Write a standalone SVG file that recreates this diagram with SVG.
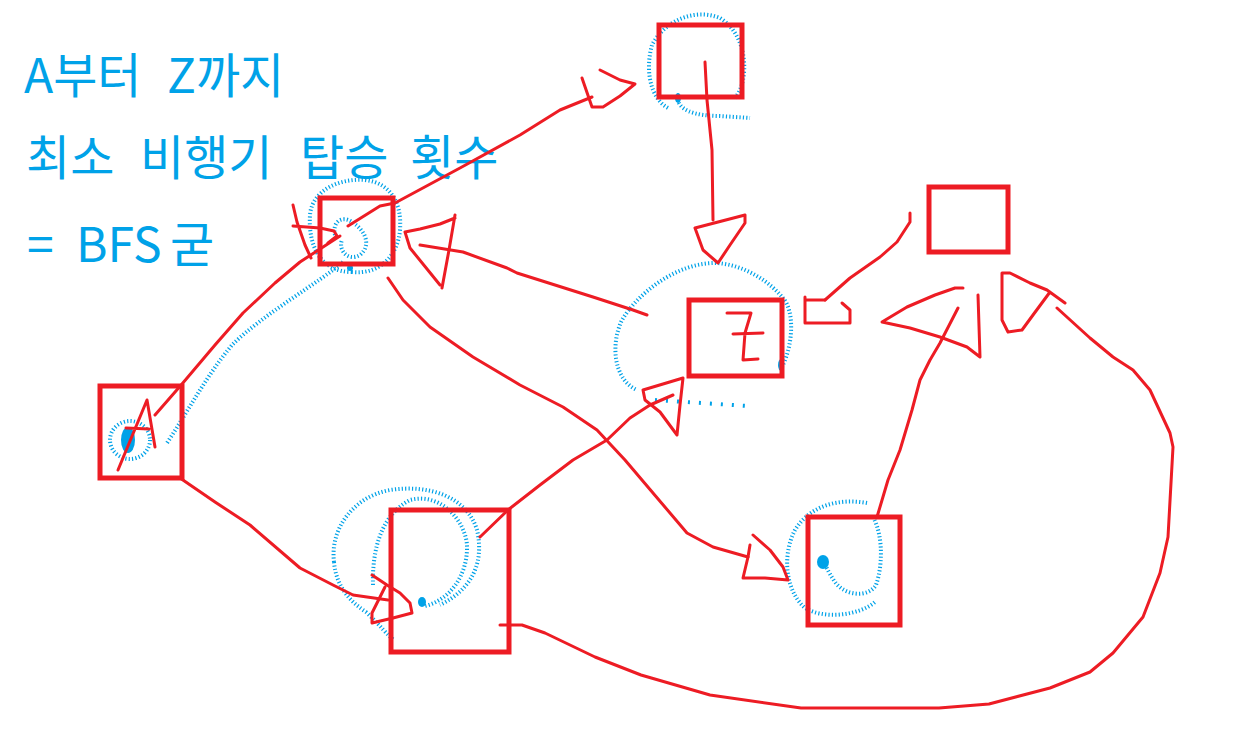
<svg xmlns="http://www.w3.org/2000/svg" width="1243" height="751" viewBox="0 0 1243 751">
<style>
.box{fill:none;stroke:#ED1C24;stroke-width:5}
.ink{fill:none;stroke:#ED1C24;stroke-width:3;stroke-linecap:round;stroke-linejoin:round}
.spray{fill:none;stroke:#00A2E8;stroke-width:4;stroke-dasharray:1.2 2.2}
.sprayw{fill:none;stroke:#00A2E8;stroke-width:4;stroke-dasharray:2 9}
.blob{fill:#00A2E8}
.title{font-family:"Noto Sans CJK KR","Noto Sans",sans-serif;font-size:48px;fill:#00A2E8}
</style>
<rect width="1243" height="751" fill="#ffffff"/>
<g id="title" class="title">
<text y="93"><tspan x="24">A부터</tspan><tspan x="167">Z까지</tspan></text>
<text y="175"><tspan x="26">최소</tspan><tspan x="140">비행기</tspan><tspan x="300">탑승</tspan><tspan x="410">횟수</tspan></text>
<text y="262"><tspan x="27">=</tspan><tspan x="76">BFS</tspan><tspan x="170">굳</tspan></text>
</g>
<g id="highlights">
<path class="spray" d="M678,96 C676,110 695,116 720,116 L750,118 M735,98 C750,80 748,35 720,18 C695,8 665,20 652,45 C645,70 650,98 668,108"/>
<ellipse class="blob" cx="678" cy="98" rx="3" ry="5"/>
<path class="spray" d="M352,272 C320,272 308,245 310,215 C312,190 340,178 365,180 C392,183 402,205 400,230 C398,255 380,275 352,272"/>
<path class="spray" d="M335,235 C332,222 342,215 352,222 C365,230 372,245 360,255 C348,262 338,250 342,240"/>
<path class="spray" d="M343,262 C320,282 262,315 232,345 C205,378 190,408 167,443"/>
<circle class="blob" cx="350" cy="268" r="3"/>
<ellipse class="spray" cx="130" cy="440" rx="20" ry="19"/>
<ellipse class="blob" cx="128" cy="440" rx="7" ry="13"/>
<path class="spray" d="M782,367 C793,345 795,312 783,298 C770,282 745,265 717,263 C680,262 640,290 622,320 C610,345 614,380 637,390"/>
<path class="sprayw" d="M655,400 L748,406"/>
<ellipse class="blob" cx="781" cy="365" rx="3" ry="6"/>
<path class="spray" d="M334,562 C330,530 352,497 390,490 C430,484 467,497 477,530 C485,565 470,590 440,605"/>
<path class="spray" d="M373,585 C372,550 381,515 410,500 C440,492 465,520 467,545 C468,575 450,600 425,606"/>
<path class="spray" d="M334,562 C336,585 348,600 366,612 C380,625 388,636 394,640"/>
<ellipse class="blob" cx="422" cy="602" rx="4" ry="5"/>
<path class="spray" d="M867,503 C840,498 810,505 795,530 C782,555 785,590 805,608 C825,620 860,615 875,602"/>
<path class="spray" d="M873,517 C883,535 883,565 876,585 C868,598 845,596 835,582 C828,572 824,562 824,562"/>
<ellipse class="blob" cx="823" cy="562" rx="6" ry="7"/>
</g>
<g id="node-top"><rect class="box" x="659" y="25" width="83" height="72"/></g>
<g id="node-b"><rect class="box" x="320" y="198" width="73" height="66"/></g>
<g id="node-a"><rect class="box" x="100" y="386" width="82" height="92"/>
<path class="ink" d="M118,470 L147,400 L155,447 M126,428 L149,429"/></g>
<g id="node-z"><rect class="box" x="689" y="300" width="93" height="76"/>
<path class="ink" d="M727,313 L751,313 L745,333 L743,360 L758,359 M733,334 L763,333"/></g>
<g id="node-right-top"><rect class="box" x="929" y="187" width="79" height="65"/></g>
<g id="node-d"><rect class="box" x="391" y="510" width="118" height="142"/></g>
<g id="node-right-bottom"><rect class="box" x="808" y="517" width="92" height="108"/></g>
<g id="connectors" class="ink">
<path d="M155,415 L182,384 L215,345 L243,313 L275,283 L300,262 L340,236"/>
<path d="M293,205 L297,222 L305,245 L311,258 M293,226 L320,228 L334,231 L337,236 L328,243"/>
<path d="M348,226 L380,206 L395,203 L460,168 L520,135 L560,110 L592,97"/>
<path d="M582,78 L592,107 L603,107 L620,96 L635,84 L620,80 L600,70"/>
<path d="M705,62 L707,100 L712,150 L713,220"/>
<path d="M695,228 L745,215 L745,223 L730,245 L718,263 L703,250 L695,228"/>
<path d="M647,315 L633,310 L593,297 L517,273 L507,268 L463,252 L420,245"/>
<path d="M405,232 L420,229 L440,224 L455,218 M455,215 L449,250 L442,288 M405,232 L410,248 L440,285"/>
<path d="M388,278 L403,300 L430,327 L473,357 L520,385 L563,407 L597,430 L625,460 L653,493 L687,533 L713,547 L748,557"/>
<path d="M753,535 L770,550 L783,567 L788,580 L765,578 L743,578 L748,557 L750,545"/>
<path d="M180,478 L215,502 L250,525 L300,568 L333,585 L353,595 L388,600"/>
<path d="M372,575 L387,585 L400,593 L410,603 L412,613 L393,618 L372,623 L372,613 L385,587"/>
<path d="M480,537 L508,510 L540,485 L573,460 L607,440 L630,418 L650,405 L673,395"/>
<path d="M643,390 L663,384 L683,378 L680,405 L677,435 L660,412 L645,400 L643,390"/>
<path d="M910,213 L910,222 L897,242 L880,257 L850,278 L825,300"/>
<path d="M805,297 L805,323 L850,323 L850,310 L842,303 M805,300 L825,300"/>
<path d="M877,517 L888,480 L900,450 L912,410 L920,380 L930,360 L940,343 L958,308"/>
<path d="M963,288 L955,288 L935,295 L907,307 L882,322 L910,328 L940,337 L967,347 L980,357 L978,295"/>
<path d="M500,625 L522,625 L545,633 L595,657 L641,675 L710,695 L801,708 L939,708 L989,704 L1050,688 L1090,672 L1113,653 L1143,617 L1160,573 L1168,537 L1173,447 L1170,433 L1150,390 L1133,370 L1113,357 L1090,338 L1057,308"/>
<path d="M1065,303 L1047,290 L1030,283 L1010,273 L1002,273 L1002,320 L1008,332 L1022,330 L1033,315 L1050,292"/>
</g>
</svg>
